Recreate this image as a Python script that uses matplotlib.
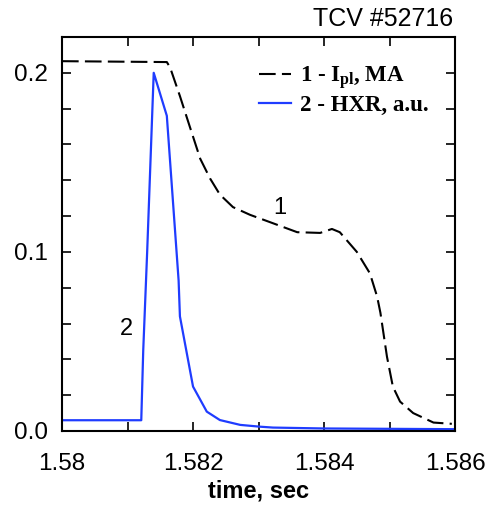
import numpy as np
import matplotlib
matplotlib.use("Agg")
import matplotlib.pyplot as plt
from matplotlib.ticker import MultipleLocator

# 数据：等离子体电流 (曲线1) 与硬X射线 (曲线2)
t_ipl = [1.5800, 1.5816, 1.58165, 1.5818, 1.58195, 1.58211, 1.58226, 1.58241,
         1.58261, 1.58287, 1.58322, 1.58359, 1.58394, 1.58412, 1.58424, 1.5845,
         1.5847, 1.58481, 1.58486, 1.58496, 1.58505, 1.58516, 1.58536, 1.58567,
         1.58595]
ipl = [0.2065, 0.206, 0.203, 0.187, 0.170, 0.152, 0.141, 0.132,
       0.125, 0.1207, 0.116, 0.111, 0.1106, 0.1128, 0.111, 0.100,
       0.088, 0.075, 0.066, 0.0415, 0.0248, 0.0164, 0.010, 0.0047,
       0.004]

t_hxr = [1.5800, 1.58121, 1.58124, 1.58130, 1.58140, 1.58160, 1.58178, 1.58180,
         1.58200, 1.58221, 1.58241, 1.58272, 1.58302, 1.58322, 1.5840, 1.5860]
hxr = [0.006, 0.006, 0.045, 0.100, 0.200, 0.176, 0.084, 0.064,
       0.0248, 0.0108, 0.0061, 0.0034, 0.0024, 0.0019, 0.0014, 0.0010]

xticks = [1.580, 1.582, 1.584, 1.586]
xticklabels = ["1.58", "1.582", "1.584", "1.586"]
yticks = [0.0, 0.1, 0.2]
yticklabels = ["0.0", "0.1", "0.2"]

plt.rcParams['font.family'] = ['Liberation Sans', 'DejaVu Sans']
plt.rcParams['mathtext.fontset'] = 'custom'
plt.rcParams['mathtext.rm'] = 'Liberation Serif:bold'
plt.rcParams['mathtext.it'] = 'Liberation Serif:bold'
plt.rcParams['mathtext.bf'] = 'Liberation Serif:bold'

fig = plt.figure(figsize=(4.92, 5.11), dpi=100)
ax = fig.add_axes([0.126, 0.1566, 0.799, 0.771])

ax.plot(t_ipl, ipl, color='black', lw=1.5, dashes=(8, 3),
        label=r"1 - I$_{\rm pl}$, MA")
ax.plot(t_hxr, hxr, color='#1f3cff', lw=1.6, label="2 - HXR, a.u.")

ax.set_xlim(1.580, 1.586)
ax.set_ylim(0.0, 0.22)

# 刻度设置
ax.set_xticks(xticks)
ax.set_xticklabels(xticklabels)
ax.set_yticks(yticks)
ax.set_yticklabels(yticklabels)
ax.xaxis.set_minor_locator(MultipleLocator(0.001))
ax.yaxis.set_minor_locator(MultipleLocator(0.02))
ax.tick_params(which='both', direction='in', top=True, right=True,
               length=6.5, width=1.2, labelsize=17.5)
ax.tick_params(axis='x', pad=16)
ax.tick_params(axis='y', pad=10)
for sp in ax.spines.values():
    sp.set_linewidth(1.5)

ax.set_xlabel("time, sec", fontsize=17, fontweight='bold', labelpad=3)

# 曲线编号
ax.text(1.58332, 0.1245, "1", fontsize=17, ha='center', va='center')
ax.text(1.58098, 0.057, "2", fontsize=17, ha='center', va='center')

leg = ax.legend(loc='upper left', bbox_to_anchor=(0.50, 0.93), frameon=False,
                prop={'family': 'Liberation Serif', 'weight': 'bold', 'size': 16.5},
                handlelength=1.4, handletextpad=0.4, labelspacing=0.15,
                borderpad=0, borderaxespad=0)

fig.text(0.921, 0.963, "TCV #52716", fontsize=18, ha='right', va='center')

fig.savefig("out.png", dpi=100)
